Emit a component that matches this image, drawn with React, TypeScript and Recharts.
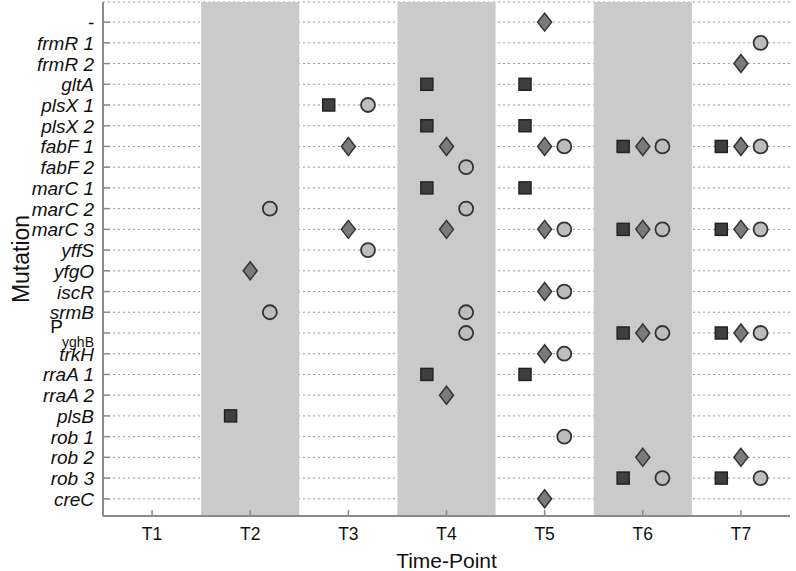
import React from "react";
import {
  ScatterChart,
  Scatter,
  XAxis,
  YAxis,
  CartesianGrid,
  ReferenceArea,
} from "recharts";

const mutations = [
  "-", "frmR 1", "frmR 2", "gltA", "plsX 1", "plsX 2", "fabF 1", "fabF 2",
  "marC 1", "marC 2", "marC 3", "yffS", "yfgO", "iscR", "srmB", "PyghB",
  "trkH", "rraA 1", "rraA 2", "plsB", "rob 1", "rob 2", "rob 3", "creC",
];

const timePoints = ["T1", "T2", "T3", "T4", "T5", "T6", "T7"];
const shadedTimes = ["T2", "T4", "T6"];

const squareObs: [string, string][] = [
  ["gltA", "T4"], ["gltA", "T5"],
  ["plsX 1", "T3"],
  ["plsX 2", "T4"], ["plsX 2", "T5"],
  ["fabF 1", "T6"], ["fabF 1", "T7"],
  ["marC 1", "T4"], ["marC 1", "T5"],
  ["marC 3", "T6"], ["marC 3", "T7"],
  ["PyghB", "T6"], ["PyghB", "T7"],
  ["rraA 1", "T4"], ["rraA 1", "T5"],
  ["plsB", "T2"],
  ["rob 3", "T6"], ["rob 3", "T7"],
];

const diamondObs: [string, string][] = [
  ["-", "T5"],
  ["frmR 2", "T7"],
  ["fabF 1", "T3"], ["fabF 1", "T4"], ["fabF 1", "T5"], ["fabF 1", "T6"], ["fabF 1", "T7"],
  ["marC 3", "T3"], ["marC 3", "T4"], ["marC 3", "T5"], ["marC 3", "T6"], ["marC 3", "T7"],
  ["yfgO", "T2"],
  ["iscR", "T5"],
  ["PyghB", "T6"], ["PyghB", "T7"],
  ["trkH", "T5"],
  ["rraA 2", "T4"],
  ["rob 2", "T6"], ["rob 2", "T7"],
  ["creC", "T5"],
];

const circleObs: [string, string][] = [
  ["frmR 1", "T7"],
  ["plsX 1", "T3"],
  ["fabF 1", "T5"], ["fabF 1", "T6"], ["fabF 1", "T7"],
  ["fabF 2", "T4"],
  ["marC 2", "T2"], ["marC 2", "T4"],
  ["marC 3", "T5"], ["marC 3", "T6"], ["marC 3", "T7"],
  ["yffS", "T3"],
  ["iscR", "T5"],
  ["srmB", "T2"], ["srmB", "T4"],
  ["PyghB", "T4"], ["PyghB", "T6"], ["PyghB", "T7"],
  ["trkH", "T5"],
  ["rob 1", "T5"],
  ["rob 3", "T6"], ["rob 3", "T7"],
];

const SQUARE_OFFSET = -0.2;
const DIAMOND_OFFSET = 0;
const CIRCLE_OFFSET = 0.2;

const toPoints = (obs: [string, string][], offset: number) =>
  obs.map(([m, t]) => ({
    x: timePoints.indexOf(t) + 1 + offset,
    y: mutations.indexOf(m),
  }));

const squareData = toPoints(squareObs, SQUARE_OFFSET);
const diamondData = toPoints(diamondObs, DIAMOND_OFFSET);
const circleData = toPoints(circleObs, CIRCLE_OFFSET);

const FONT = '"Liberation Sans", Arial, sans-serif';
const AXIS_COLOR = "#8a8a8a";
const xTicks = timePoints.map((_, i) => i + 1);
const yTicks = mutations.map((_, i) => i);
const xDomain = [0.5, timePoints.length + 0.5];
const yDomain = [-0.97, mutations.length - 1 + 0.83];

const BottomTick = (props: any) => {
  const { x, y, payload } = props;
  return (
    <g>
      <line x1={x} x2={x} y1={y} y2={y - 6} stroke={AXIS_COLOR} strokeWidth={1.5} />
      <text x={x} y={y + 24} textAnchor="middle" fontSize={17.5} fontFamily={FONT} fill="#111">
        {timePoints[payload.value - 1]}
      </text>
    </g>
  );
};

const TopTick = (props: any) => {
  const { x, y } = props;
  return <line x1={x} x2={x} y1={y} y2={y + 6} stroke={AXIS_COLOR} strokeWidth={1.5} />;
};

const LeftTick = (props: any) => {
  const { x, y, payload } = props;
  const label = mutations[payload.value];
  let content;
  if (label === "PyghB") {
    content = (
      <g>
        <text x={x - 40} y={y} textAnchor="end" fontSize={19} fontFamily={FONT} fill="#111">P</text>
        <text x={x - 9} y={y + 14} textAnchor="end" fontSize={14} fontFamily={FONT} fill="#111">yghB</text>
      </g>
    );
  } else {
    content = (
      <text x={x - 9} y={y + 7} textAnchor="end" fontSize={19} fontStyle="italic" fontFamily={FONT} fill="#111">
        {label}
      </text>
    );
  }
  return (
    <g>
      <line x1={x} x2={x + 7} y1={y} y2={y} stroke={AXIS_COLOR} strokeWidth={1.5} />
      {content}
    </g>
  );
};

const RightTick = (props: any) => {
  const { x, y } = props;
  return <line x1={x} x2={x - 7} y1={y} y2={y} stroke={AXIS_COLOR} strokeWidth={1.5} />;
};

const SquareShape = (props: any) => {
  const { cx, cy } = props;
  return <rect x={cx - 6} y={cy - 6} width={12} height={12} fill="#3f3f3f" stroke="#222" strokeWidth={1.5} />;
};

const DiamondShape = (props: any) => {
  const { cx, cy } = props;
  return (
    <polygon
      points={`${cx},${cy - 9} ${cx + 7},${cy} ${cx},${cy + 9} ${cx - 7},${cy}`}
      fill="#7b7b7b"
      stroke="#333"
      strokeWidth={1.5}
    />
  );
};

const CircleShape = (props: any) => {
  const { cx, cy } = props;
  return <circle cx={cx} cy={cy} r={7} fill="#bdbdbd" stroke="#333" strokeWidth={1.8} />;
};

export default function App() {
  return (
    <div style={{ position: "absolute", left: 0, top: 0, width: 796, height: 571, background: "#fff" }}>
      <ScatterChart width={796} height={571} margin={{ top: 2, right: 6, bottom: 0, left: 0 }}>
        {shadedTimes.map((t) => {
          const c = timePoints.indexOf(t) + 1;
          return (
            <ReferenceArea
              key={t}
              x1={c - 0.5}
              x2={c + 0.5}
              y1={yDomain[0]}
              y2={yDomain[1]}
              fill="#cacaca"
              fillOpacity={1}
              stroke="none"
              ifOverflow="hidden"
            />
          );
        })}
        <CartesianGrid vertical={false} stroke="#999" strokeDasharray="2 3" />
        <XAxis
          type="number"
          dataKey="x"
          domain={xDomain}
          ticks={xTicks}
          interval={0}
          height={55}
          tickSize={0}
          tickMargin={0}
          tickLine={false}
          tick={<BottomTick />}
          axisLine={{ stroke: AXIS_COLOR, strokeWidth: 2 }}
          allowDataOverflow
          label={{
            value: "Time-Point",
            position: "insideBottom",
            offset: 3,
            fontSize: 21,
            fontFamily: FONT,
            fill: "#111",
          }}
        />
        <XAxis
          xAxisId="top"
          orientation="top"
          type="number"
          dataKey="x"
          domain={xDomain}
          ticks={xTicks}
          interval={0}
          height={0}
          tickSize={0}
          tickMargin={0}
          tickLine={false}
          tick={<TopTick />}
          axisLine={{ stroke: AXIS_COLOR, strokeWidth: 2 }}
          allowDataOverflow
        />
        <YAxis
          type="number"
          dataKey="y"
          domain={yDomain}
          ticks={yTicks}
          interval={0}
          reversed
          width={103}
          tickSize={0}
          tickMargin={0}
          tickLine={false}
          tick={<LeftTick />}
          axisLine={{ stroke: AXIS_COLOR, strokeWidth: 2 }}
          allowDataOverflow
          label={{
            value: "Mutation",
            angle: -90,
            position: "insideLeft",
            offset: 0,
            dx: 21,
            fontSize: 23,
            fontFamily: FONT,
            fill: "#111",
            style: { textAnchor: "middle" },
          }}
        />
        <YAxis
          yAxisId="right"
          orientation="right"
          type="number"
          dataKey="y"
          domain={yDomain}
          ticks={yTicks}
          interval={0}
          reversed
          width={0}
          tickSize={0}
          tickMargin={0}
          tickLine={false}
          tick={<RightTick />}
          axisLine={{ stroke: AXIS_COLOR, strokeWidth: 2 }}
          allowDataOverflow
        />
        <Scatter data={squareData} shape={<SquareShape />} isAnimationActive={false} />
        <Scatter data={diamondData} shape={<DiamondShape />} isAnimationActive={false} />
        <Scatter data={circleData} shape={<CircleShape />} isAnimationActive={false} />
      </ScatterChart>
    </div>
  );
}
